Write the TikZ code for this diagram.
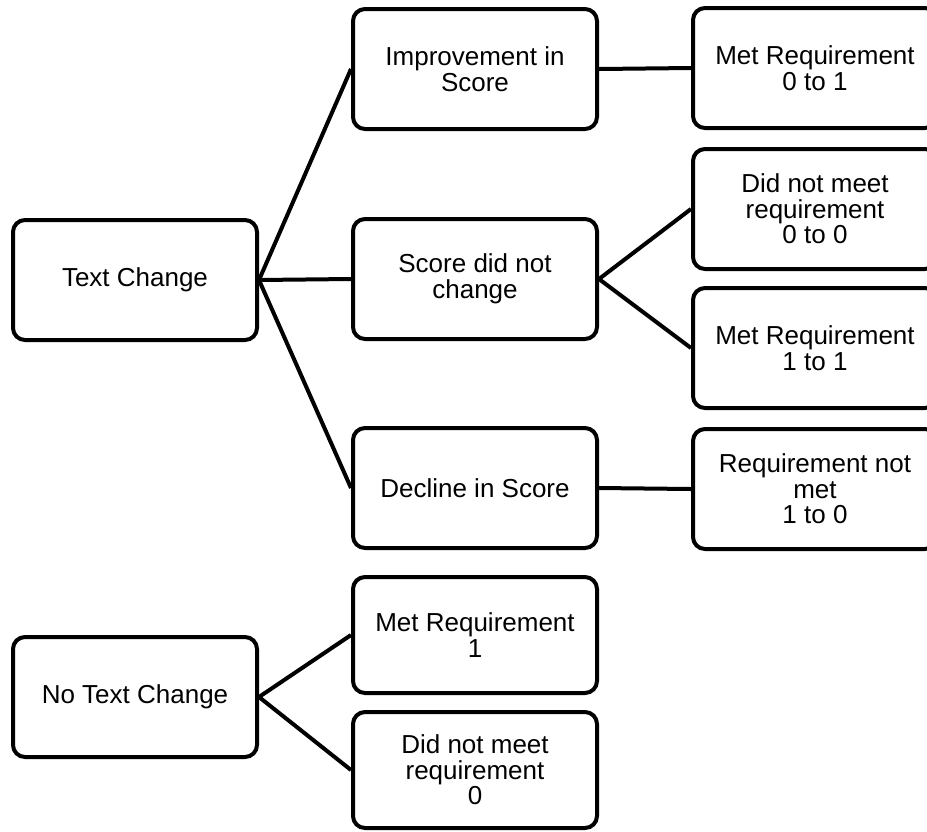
\documentclass[tikz,border=0pt]{standalone}
\usepackage{fontspec}
\setmainfont{Liberation Sans}

\begin{document}
\begin{tikzpicture}[x=1pt, y=-1pt,
        box/.style={rectangle, rounded corners=12pt, draw=black, line width=4pt,
                    minimum width=244pt, minimum height=120pt, align=center,
                    font=\fontsize{26}{25.5}\selectfont, inner sep=3pt},
        lowbox/.style={box, minimum height=116pt},
        link/.style={draw=black, line width=4pt}
    ]
    \useasboundingbox (0,0) rectangle (927,831);

    % first level
    \node[box]    (txt)    at (135, 280) {Text Change};
    \node[box]    (notxt)  at (135, 697) {No Text Change};

    % second level
    \node[box]    (imp)    at (475, 69)  {Improvement in\\Score};
    \node[box]    (same)   at (475, 279) {Score did not\\change};
    \node[box]    (dec)    at (475, 488) {Decline in Score};
    \node[lowbox] (met1)   at (475, 635) {Met Requirement\\1};
    \node[lowbox] (nmet0)  at (475, 770) {Did not meet\\requirement\\0};

    % third level
    \node[box]    (met01)  at (815, 68)  {Met Requirement\\0 to 1};
    \node[box]    (nmet00) at (815, 209) {Did not meet\\requirement\\0 to 0};
    \node[box]    (met11)  at (815, 348) {Met Requirement\\1 to 1};
    \node[box]    (nmet10) at (815, 489) {Requirement not\\met\\1 to 0};

    \draw[link] (txt.east) -- (imp.west);
    \draw[link] (txt.east) -- (same.west);
    \draw[link] (txt.east) -- (dec.west);
    \draw[link] (imp.east) -- (met01.west);
    \draw[link] (same.east) -- (nmet00.west);
    \draw[link] (same.east) -- (met11.west);
    \draw[link] (dec.east) -- (nmet10.west);
    \draw[link] (notxt.east) -- (met1.west);
    \draw[link] (notxt.east) -- (nmet0.west);
\end{tikzpicture}
\end{document}
